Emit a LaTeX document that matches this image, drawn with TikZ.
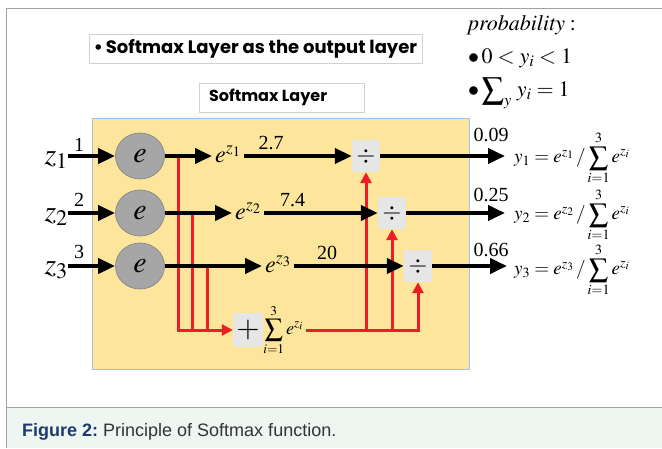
\documentclass[tikz,border=0pt]{standalone}
\usepackage{mathptmx}
\usepackage[no-math]{fontspec}
\setmainfont{Liberation Serif}
\newfontfamily\gothic{Poppins}
\newfontfamily\arialf{Liberation Sans}
\usetikzlibrary{arrows.meta,shapes.geometric}
\definecolor{ylw}{HTML}{FDE69C}
\definecolor{ylwborder}{HTML}{9DC3E6}
\definecolor{circgray}{HTML}{A6A6A6}
\definecolor{circborder}{HTML}{8C8C8C}
\definecolor{boxgray}{HTML}{E6E6E6}
\definecolor{myred}{HTML}{EE1C24}
\definecolor{framegray}{HTML}{A0A0A0}
\definecolor{capbg}{HTML}{EEF6F2}
\definecolor{capblue}{HTML}{1F3A6E}
\definecolor{captext}{HTML}{333333}
\definecolor{tboxborder}{HTML}{D0D0D0}
\newcommand{\fs}[1]{\fontsize{#1}{#1}\selectfont}
\begin{document}
\begin{tikzpicture}[x=1pt,y=-1pt,
  blk/.style={line width=4pt,-{Triangle[length=17pt,width=15pt]}},
  redl/.style={draw=myred,line width=3pt},
  redarr/.style={redl,-{Triangle[length=11pt,width=11pt]}},
  divbox/.style={fill=boxgray,minimum width=28pt,minimum height=32pt,inner sep=0pt},
  ecirc/.style={ellipse,fill=circgray,draw=circborder,line width=0.8pt,minimum width=49pt,minimum height=46pt,inner sep=0pt},
  tbox/.style={draw=tboxborder,fill=white,line width=1pt,minimum height=29pt,inner sep=0pt},
  zlbl/.style={anchor=east,inner sep=0pt},
  elbl/.style={anchor=west,inner sep=3pt},
  numlbl/.style={inner sep=0pt,font=\fs{20}},
  frm/.style={anchor=west,inner sep=0pt,font=\fs{19}}
]
\useasboundingbox (0,0) rectangle (662,448);
% frame and caption
\fill[capbg] (6,407.5) rectangle (662,448);
\draw[framegray,line width=1pt] (6.5,448) -- (6.5,8) -- (662,8);
\draw[framegray,line width=1pt] (6.5,407.5) -- (662,407.5);
\node[anchor=base west,inner sep=0pt] (cap) at (22,436) {\arialf\fs{18}\textcolor{capblue}{\bfseries Figure 2:}\ \textcolor{captext}{Principle of Softmax function.}};

% title boxes
\node[tbox,minimum width=333pt] (title) at (255.5,48.5) {\gothic\bfseries\fs{18}\textbullet\,Softmax Layer as the output layer};
\node[tbox,minimum width=165pt,text width=145pt,align=left] (smax) at (281.5,97.5) {\gothic\bfseries\fs{16}Softmax Layer};

% probability text
\node[anchor=west,inner sep=0pt,font=\fs{22}] (prob) at (468,25) {$\mathit{probability}:$};
\node[anchor=west,inner sep=0pt,font=\fs{22}] (cond1) at (468,58) {$\bullet\,0<y_i<1$};
\node[anchor=west,inner sep=0pt,font=\fs{22}] (cond2) at (468,93) {$\bullet\,{\displaystyle\sum\nolimits_{y}}\;y_i=1$};

% yellow layer
\draw[fill=ylw,draw=ylwborder,line width=1pt] (92,118) rectangle (469,369);

% circles
\node[ecirc] (c1) at (140,156) {\fs{30}$e$};
\node[ecirc] (c2) at (140,213) {\fs{30}$e$};
\node[ecirc] (c3) at (140,266) {\fs{30}$e$};

% z labels
\node[zlbl] (z1) at (68,160) {\fs{30}$z_{1}$};
\node[zlbl] (z2) at (68,217) {\fs{30}$z_{2}$};
\node[zlbl] (z3) at (68,270) {\fs{30}$z_{3}$};
\node[numlbl] (n1) at (79,145) {1};
\node[numlbl] (n2) at (79,200) {2};
\node[numlbl] (n3) at (79,252) {3};

% e^z labels
\node[elbl,font=\fs{24}] (e1) at (212,154) {$e^{z_1}$};
\node[elbl,font=\fs{24}] (e2) at (232,211) {$e^{z_2}$};
\node[elbl,font=\fs{24}] (e3) at (262,264) {$e^{z_3}$};

% divide boxes
\node[divbox] (d1) at (366,156) {\fs{24}$\div$};
\node[divbox] (d2) at (392,213) {\fs{24}$\div$};
\node[divbox] (d3) at (418,266) {\fs{24}$\div$};

% plus and sum
\node[fill=boxgray,minimum width=30pt,minimum height=34pt,inner sep=0pt] (p) at (248,330) {\fs{30}$+$};
\node[anchor=west,inner sep=0pt,font=\fs{18}] (s) at (p.east) {$\displaystyle\sum_{i=1}^{3}e^{z_i}$};

% red connectors
\coordinate (r1) at (178,156);
\coordinate (r2) at (192,213);
\coordinate (r3) at (207,266);
\draw[redarr] (r1) |- (p.west);
\draw[redl] (r2) -- (r2|-p);
\draw[redl] (r3) -- (r3|-p);
\draw[redarr] ([xshift=3pt]s.east|-p) -| (d3.south);
\draw[redarr] (d1|-p) -- (d1.south);
\draw[redarr] (d2|-p) -- (d2.south);

% black arrows
\draw[blk] (z1.east|-c1) -- (c1.west);
\draw[blk] (z2.east|-c2) -- (c2.west);
\draw[blk] (z3.east|-c3) -- (c3.west);
\draw[blk] (c1.east) -- (e1.west|-c1);
\draw[blk] (c2.east) -- (e2.west|-c2);
\draw[blk] (c3.east) -- (e3.west|-c3);
\draw[blk] (e1.east|-c1) -- node[above=4pt,numlbl,pos=0.25] (v1) {2.7} (d1.west);
\draw[blk] (e2.east|-c2) -- node[above=4pt,numlbl,pos=0.25] (v2) {7.4} (d2.west);
\draw[blk] (e3.east|-c3) -- node[above=4pt,numlbl,pos=0.3] (v3) {20} (d3.west);

% outputs
\coordinate (o1) at (505,156);
\coordinate (o2) at (505,213);
\coordinate (o3) at (507,266);
\draw[blk] (d1.east) -- (o1);
\draw[blk] (d2.east) -- (o2);
\draw[blk] (d3.east) -- (o3);
\node[numlbl] (p1) at (491,135) {0.09};
\node[numlbl] (p2) at (491,195) {0.25};
\node[numlbl] (p3) at (491,250) {0.66};
\node[frm] (f1) at (514,158) {$y_1=e^{z_1}\,/\displaystyle\sum_{i=1}^{3}e^{z_i}$};
\node[frm] (f2) at (514,215) {$y_2=e^{z_2}\,/\displaystyle\sum_{i=1}^{3}e^{z_i}$};
\node[frm] (f3) at (514,270) {$y_3=e^{z_3}\,/\displaystyle\sum_{i=1}^{3}e^{z_i}$};
\end{tikzpicture}
\end{document}
